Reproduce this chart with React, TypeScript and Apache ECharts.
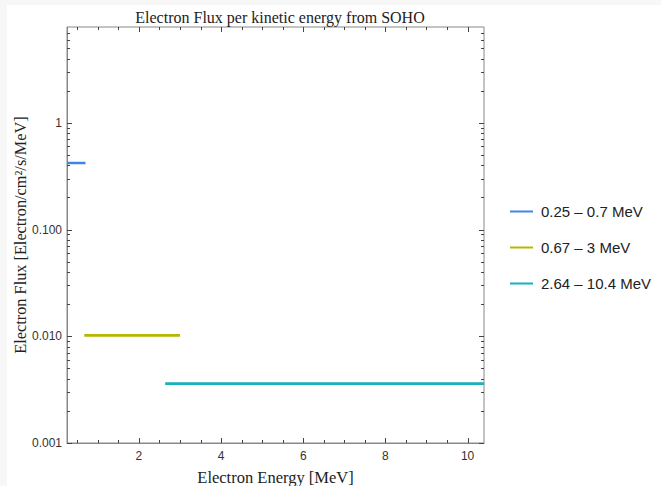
import React, { useEffect, useRef } from 'react';
import * as echarts from 'echarts';

// Energy channels and their measured flux
const seriesNames = ['0.25 – 0.7 MeV', '0.67 – 3 MeV', '2.64 – 10.4 MeV'];
const energyLow = [0.25, 0.67, 2.64];
const energyHigh = [0.7, 3, 10.4];
const fluxValues = [0.42, 0.0102, 0.0036];
const seriesColors = ['#3f86e6', '#b6b700', '#14b1bf'];

// Axis ranges and tick values
const xRange = [0.25, 10.4];
const yRange = [0.001, 7.9];
const xLabelTicks = [2, 4, 6, 8, 10];
const yLabelTicks = [0.001, 0.01, 0.1, 1];

const xMinorTicks: number[] = [];
for (let i = 1; i <= 20; i++) {
  const v = i * 0.5;
  if (xLabelTicks.indexOf(v) < 0) xMinorTicks.push(v);
}
const yMinorTicks: number[] = [];
yLabelTicks.forEach((d) => {
  for (let m = 2; m <= 9; m++) {
    const v = m * d;
    if (v < yRange[1]) yMinorTicks.push(v);
  }
});

const SERIF = '"Liberation Serif", "DejaVu Serif", serif';
const SANS = '"Liberation Sans", Arial, sans-serif';

export default function App() {
  const ref = useRef<HTMLDivElement>(null);

  useEffect(() => {
    if (!ref.current) return;
    const chart = echarts.init(ref.current, undefined, { renderer: 'svg' });

    const tickData = [
      ...xLabelTicks.map((v) => [v, 1, 0]),
      ...xMinorTicks.map((v) => [v, 1, 1]),
      ...yLabelTicks.map((v) => [1, v, 2]),
      ...yMinorTicks.map((v) => [1, v, 3]),
    ];

    const tickStyle = { stroke: '#444', lineWidth: 1 };

    const lineSeries = seriesNames.map((name, i) => ({
      name,
      type: 'line',
      data: [
        [energyLow[i], fluxValues[i]],
        [energyHigh[i], fluxValues[i]],
      ],
      showSymbol: false,
      symbol: 'none',
      lineStyle: { color: seriesColors[i], width: 2.6 },
      itemStyle: { color: seriesColors[i] },
      z: 3,
    }));

    chart.setOption({
      animation: false,
      backgroundColor: 'transparent',
      title: {
        text: 'Electron Flux per kinetic energy from SOHO',
        left: 275,
        textAlign: 'center',
        top: 4,
        textStyle: { fontFamily: SERIF, fontSize: 16, fontWeight: 'normal', color: '#222' },
      },
      legend: {
        orient: 'vertical',
        left: 505,
        top: 198,
        icon: 'rect',
        itemWidth: 23,
        itemHeight: 2,
        itemGap: 19,
        data: seriesNames,
        textStyle: { fontFamily: SANS, fontSize: 15, color: '#222', padding: [0, 0, 0, 3], lineHeight: 17 },
      },
      grid: {
        left: 67,
        right: 177,
        top: 27,
        bottom: 43,
        outerBoundsMode: 'none',
        show: true,
        borderColor: '#888',
        borderWidth: 1,
        backgroundColor: 'transparent',
      },
      xAxis: {
        type: 'value',
        min: xRange[0],
        max: xRange[1],
        name: 'Electron Energy [MeV]',
        nameLocation: 'middle',
        nameGap: 26,
        nameTextStyle: { fontFamily: SERIF, fontSize: 16.5, color: '#222' },
        axisLine: { show: true, lineStyle: { color: '#888' } },
        axisTick: { show: false },
        splitLine: { show: false },
        axisLabel: {
          customValues: xLabelTicks,
          margin: 7,
          fontFamily: SANS,
          fontSize: 12,
          color: '#333',
        },
      },
      yAxis: {
        type: 'log',
        logBase: 10,
        min: yRange[0],
        max: yRange[1],
        name: 'Electron Flux [Electron/cm²/s/MeV]',
        nameLocation: 'middle',
        nameRotate: 90,
        nameGap: 39,
        nameMoveOverlap: false,
        nameTextStyle: { fontFamily: SERIF, fontSize: 16.3, color: '#222' },
        axisLine: { show: true, lineStyle: { color: '#888' } },
        axisTick: { show: false },
        splitLine: { show: false },
        axisLabel: {
          margin: 5,
          fontFamily: SANS,
          fontSize: 12,
          color: '#333',
          // decade labels only; the top edge of the axis stays unlabelled
          formatter: (v: number) => (v > 1.5 ? '' : v >= 0.999 ? '1' : v.toFixed(3)),
        },
      },
      series: [
        ...lineSeries,
        {
          name: 'frame-ticks',
          type: 'custom',
          silent: true,
          z: 1,
          encode: { x: 0, y: 1 },
          data: tickData,
          renderItem: (params: any, api: any) => {
            const cs = params.coordSys;
            const kind = api.value(2);
            if (kind < 2) {
              const px = Math.round(api.coord([api.value(0), 1])[0]) + 0.5;
              const len = kind === 0 ? 5 : 3;
              return {
                type: 'group',
                children: [
                  { type: 'line', shape: { x1: px, y1: cs.y + cs.height, x2: px, y2: cs.y + cs.height - len }, style: tickStyle },
                  { type: 'line', shape: { x1: px, y1: cs.y, x2: px, y2: cs.y + len }, style: tickStyle },
                ],
              };
            }
            const py = Math.round(api.coord([1, api.value(1)])[1]) + 0.5;
            const len = kind === 2 ? 5 : 3;
            return {
              type: 'group',
              children: [
                { type: 'line', shape: { x1: cs.x, y1: py, x2: cs.x + len, y2: py }, style: tickStyle },
                { type: 'line', shape: { x1: cs.x + cs.width, y1: py, x2: cs.x + cs.width - len, y2: py }, style: tickStyle },
              ],
            };
          },
        },
      ],
    });

    return () => chart.dispose();
  }, []);

  return (
    <div style={{ position: 'fixed', left: 0, top: 0, width: 661, height: 486, background: '#f7f7f7' }}>
      <div style={{ position: 'absolute', left: 7, top: 5, right: 0, bottom: 0, background: '#ffffff' }} />
      <div ref={ref} style={{ position: 'absolute', left: 0, top: 0, width: 661, height: 486 }} />
    </div>
  );
}
